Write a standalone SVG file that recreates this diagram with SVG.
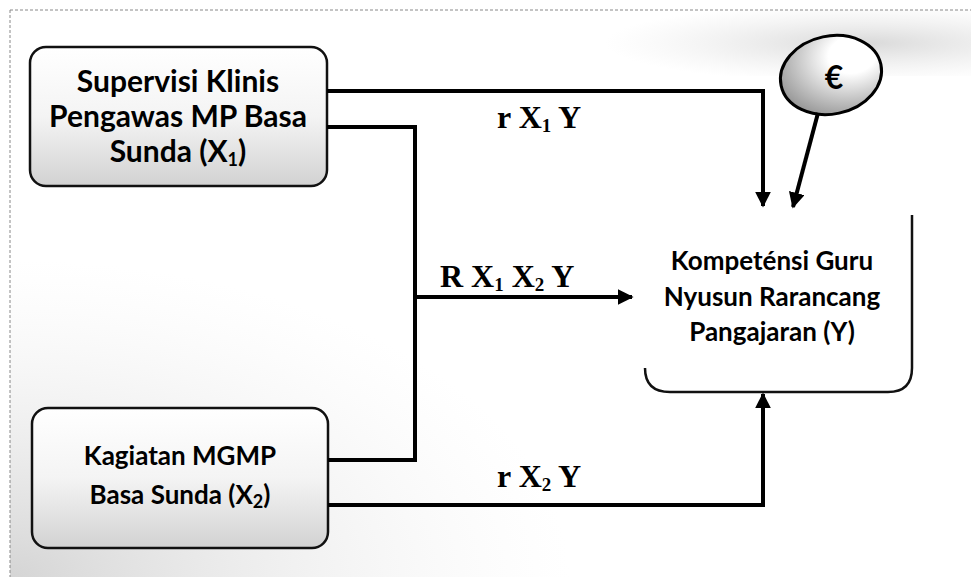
<svg xmlns="http://www.w3.org/2000/svg" width="971" height="577" viewBox="0 0 971 577">
  <defs>
    <linearGradient id="boxGrad" x1="0" y1="0" x2="0" y2="1">
      <stop offset="0" stop-color="#ffffff"/>
      <stop offset="0.5" stop-color="#f4f4f4"/>
      <stop offset="1" stop-color="#d2d2d2"/>
    </linearGradient>
    <radialGradient id="ellGrad" cx="0.75" cy="0.3" r="0.8">
      <stop offset="0.3" stop-color="#ffffff"/>
      <stop offset="1" stop-color="#9a9a9a"/>
    </radialGradient>
    <radialGradient id="bandGrad" cx="0.75" cy="0.5" r="0.6">
      <stop offset="0" stop-color="#d2d2d2" stop-opacity="0.85"/>
      <stop offset="1" stop-color="#e6e6e6" stop-opacity="0"/>
    </radialGradient>
    <radialGradient id="cornerGrad" cx="0" cy="1" r="1">
      <stop offset="0" stop-color="#d0d0d0" stop-opacity="0.9"/>
      <stop offset="1" stop-color="#eeeeee" stop-opacity="0"/>
    </radialGradient>
    <marker id="arr" viewBox="0 0 10 10" refX="9" refY="5" markerWidth="4" markerHeight="4" orient="auto" markerUnits="strokeWidth">
      <path d="M0,0 L10,5 L0,10 z" fill="#000"/>
    </marker>
  </defs>
  <style>
    .line { fill: none; stroke: #000; stroke-width: 4; }
    .box { fill: url(#boxGrad); stroke: #111; stroke-width: 2.5; }
    .ntext { font-family: "Lato", "Open Sans", "Liberation Sans", sans-serif; font-weight: bold; fill: #000; text-anchor: middle; }
    .big { font-size: 30px; }
    .mid { font-size: 26px; }
    .lbl { font-family: "Liberation Serif", "DejaVu Serif", serif; font-weight: bold; font-size: 32px; fill: #000; }
    .sub { font-size: 19px; }
    .nsub { font-size: 18px; }
  </style>

  <rect x="0" y="0" width="971" height="577" fill="#ffffff"/>
  <rect x="540" y="10" width="431" height="66" fill="url(#bandGrad)"/>
  <rect x="10" y="260" width="560" height="317" fill="url(#cornerGrad)"/>
  <path d="M10,10 L971,10 M10,10 L10,577" fill="none" stroke="#888" stroke-width="1" stroke-dasharray="3 2"/>

  <g id="node-x1">
    <rect class="box" x="30" y="47" width="297" height="139" rx="16"/>
    <text class="ntext big" x="178" y="92">Supervisi Klinis</text>
    <text class="ntext big" x="178" y="127">Pengawas MP Basa</text>
    <text class="ntext big" x="178" y="162">Sunda (X<tspan class="nsub" dy="4">1</tspan><tspan dy="-4">)</tspan></text>
  </g>

  <g id="node-x2">
    <rect class="box" x="32" y="408" width="296" height="140" rx="16"/>
    <text class="ntext mid" x="180" y="465">Kagiatan MGMP</text>
    <text class="ntext mid" x="180" y="504">Basa Sunda (X<tspan class="nsub" dy="4">2</tspan><tspan dy="-4">)</tspan></text>
  </g>

  <g id="node-y">
    <path d="M645,368 Q645,392 670,392 L888,392 Q912,392 912,368 L912,215" fill="none" stroke="#111" stroke-width="2.5"/>
    <text class="ntext mid" x="772" y="270">Kompeténsi Guru</text>
    <text class="ntext mid" x="772" y="306">Nyusun Rarancang</text>
    <text class="ntext mid" x="772" y="341">Pangajaran (Y)</text>
  </g>

  <g id="node-e">
    <ellipse cx="831" cy="75" rx="51" ry="39" transform="rotate(-12 831 75)" fill="url(#ellGrad)" stroke="#000" stroke-width="3"/>
    <text x="834" y="89" font-family="Lato, 'Open Sans', 'Liberation Sans', sans-serif" font-weight="bold" font-size="32" text-anchor="middle">€</text>
  </g>

  <g id="connectors">
    <path class="line" d="M327,91 L763,91 L763,206" marker-end="url(#arr)"/>
    <path class="line" d="M327,127 L415,127 L415,460 L328,460"/>
    <path class="line" d="M415,297 L632,297" marker-end="url(#arr)"/>
    <path class="line" d="M328,505 L763,505 L763,394" marker-end="url(#arr)"/>
    <path class="line" d="M818,113 L793,207" marker-end="url(#arr)"/>
  </g>

  <g id="labels">
    <text class="lbl" x="497" y="128">r X<tspan class="sub" dy="4">1</tspan><tspan dy="-4"> Y</tspan></text>
    <text class="lbl" x="440" y="287">R X<tspan class="sub" dy="4">1</tspan><tspan dy="-4"> X</tspan><tspan class="sub" dy="4">2</tspan><tspan dy="-4"> Y</tspan></text>
    <text class="lbl" x="497" y="487">r X<tspan class="sub" dy="4">2</tspan><tspan dy="-4"> Y</tspan></text>
  </g>
</svg>
